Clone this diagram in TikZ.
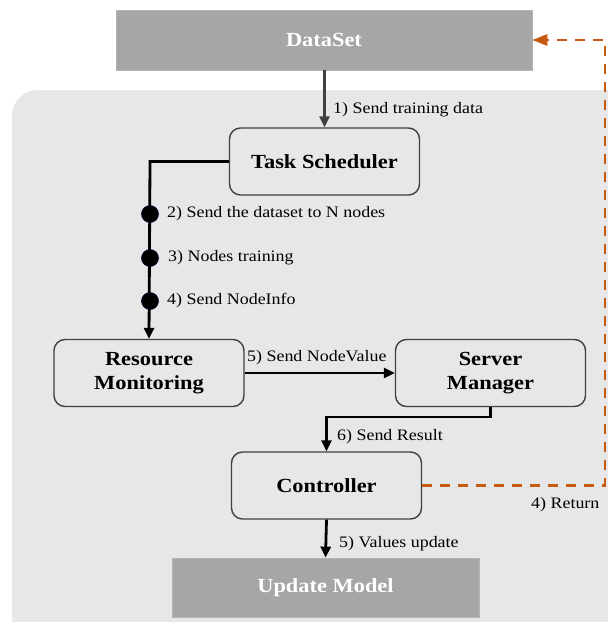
\documentclass[tikz,border=0pt]{standalone}
\usepackage{fontspec}
\setmainfont[FakeStretch=1.12]{Liberation Serif}
\usetikzlibrary{arrows.meta}
\definecolor{bggray}{HTML}{E7E7E7}
\definecolor{boxgray}{HTML}{A6A6A6}
\definecolor{edgegray}{HTML}{404040}
\definecolor{retorange}{HTML}{C55A11}
\tikzset{
  proc/.style={draw=edgegray, line width=1.4pt, rounded corners=11pt, fill=bggray,
    minimum width=190pt, minimum height=67pt, align=center,
    font=\fontsize{20}{24}\selectfont\bfseries, inner sep=0pt},
  datab/.style={fill=boxgray, draw=boxgray!85!white, line width=0.8pt, text=white,
    minimum height=60pt, inner sep=0pt, font=\fontsize{20}{24}\selectfont\bfseries},
  flow/.style={line width=2.8pt, -{Triangle[length=11pt,width=10pt]}},
  lbl/.style={font=\fontsize{16}{19}\selectfont, inner sep=0pt},
  dotn/.style={circle, fill=black, draw=black!80!blue, line width=0.6pt, minimum size=17pt, inner sep=0pt},
  ret/.style={draw=retorange, line width=2.6pt, dash pattern=on 10pt off 8pt},
}
\begin{document}
\begin{tikzpicture}[x=1pt,y=-1pt]
\useasboundingbox (0,0) rectangle (608,622);
\clip (0,0) rectangle (608,622);
\fill[bggray, rounded corners=26pt] (12,90) rectangle (660,680);

\node[datab, minimum width=416pt] (data) at (324,40) {DataSet};
\node[proc] (task) at (324.5,161.5) {Task Scheduler};
\node[proc] (rm) at (149,373) {Resource\\Monitoring};
\node[proc] (sm) at (490.5,373) {Server\\Manager};
\node[proc] (ctrl) at (326.5,485.5) {Controller};
\node[datab, minimum width=307pt, minimum height=59pt] (upd) at (325.5,587.5) {Update Model};

\coordinate (tl) at (150,161.5);
\coordinate (smd) at (490.5,417);
\coordinate (ctl) at (326.5,417);
\coordinate (rc) at (605,485.5);
\coordinate (rt) at (605,40);

% 1) dataset -> task
\draw[flow, draw=edgegray, -{Triangle[length=11pt,width=10pt,fill=edgegray]}] (data.south -| task.north) -- (task.north);
\node[lbl, anchor=west] (l1) at (333,110) {1) Send training data};

% task -> rm
\draw[flow] (task.west) -- (tl) -- (rm.north);
\node[dotn] (d2) at (150,214) {};
\node[dotn] (d3) at (150,258) {};
\node[dotn] (d4) at (150,301) {};
\node[lbl, anchor=west] (l2) at (167,214) {2) Send the dataset to N nodes};
\node[lbl, anchor=west] (l3) at (168,258) {3) Nodes training};
\node[lbl, anchor=west] (l4) at (167,301) {4) Send NodeInfo};

% rm -> sm
\draw[flow] (rm.east) -- (sm.west);
\node[lbl, anchor=west] (l5) at (247,358) {5) Send NodeValue};

% sm -> ctrl
\draw[flow] (sm.south) -- (smd) -- (ctl) -- (ctrl.north);
\node[lbl, anchor=west] (l6) at (337,437) {6) Send Result};

% ctrl -> upd
\draw[flow] (ctrl.south) -- (upd.north);
\node[lbl, anchor=west] (l7) at (339,544) {5) Values update};

% return
\draw[ret] (ctrl.east) -- (rc) -- (rt) -- ([xshift=14pt]data.east);
\fill[retorange] (data.east) -- ++(15pt,-6pt) -- ++(0,12pt) -- cycle;
\node[lbl, anchor=west] (l8) at (531,505) {4) Return};
\end{tikzpicture}
\end{document}
